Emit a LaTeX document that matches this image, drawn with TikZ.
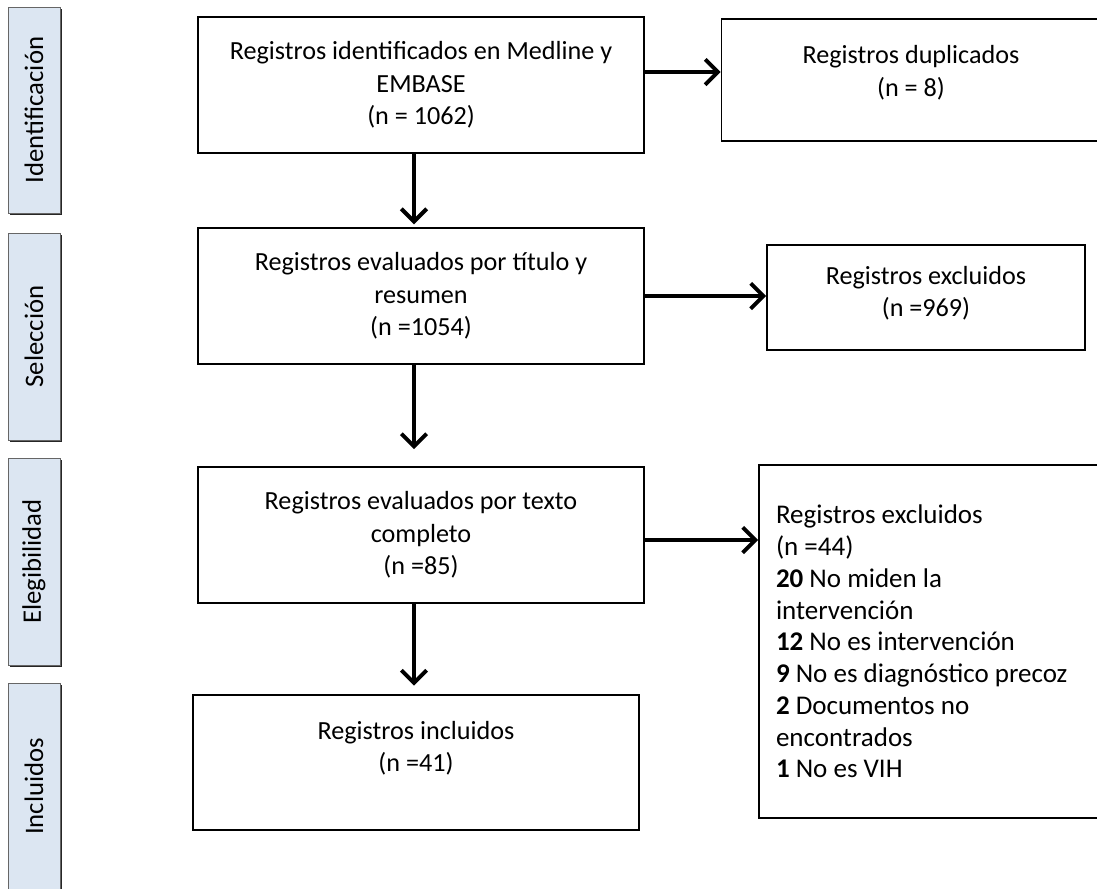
\documentclass[tikz,border=0pt]{standalone}
\usepackage{fontspec}
\setmainfont{Carlito}
\usetikzlibrary{arrows.meta,shadows}

\begin{document}
\begin{tikzpicture}[x=0.025cm, y=-0.025cm,
    caja/.style={draw, line width=1.3pt, align=center, inner sep=0pt,
        font=\fontsize{18.6}{23}\selectfont},
    fase/.style={draw=black!60, line width=0.6pt,
        fill={rgb,255:red,220;green,230;blue,242},
        drop shadow={shadow xshift=1.2pt, shadow yshift=-1.2pt, opacity=1, fill=black!85},
        inner sep=0pt, minimum width=52*\px, font=\fontsize{19}{22}\selectfont},
    flecha/.style={line width=2.8pt, -{Straight Barb[length=9pt, width=18pt]}}]

    % Unidad: un pixel de la figura original
    \def\px{0.025cm}
    \useasboundingbox (0,0) rectangle (1097,888);

    % ==============================================
    % Columna de fases
    % ==============================================
    \node[fase, minimum height=206*\px] (fidentif) at (34,110) {\rotatebox{90}{Identificación}};
    \node[fase, minimum height=207*\px] (fselec) at (34,336.5) {\rotatebox{90}{Selección}};
    \node[fase, minimum height=207*\px] (feleg) at (34,561.5) {\rotatebox{90}{Elegibilidad}};
    \node[fase, minimum height=207*\px] (fincl) at (34,786.5) {\rotatebox{90}{Incluidos}};

    % ==============================================
    % Cajas principales
    % ==============================================
    \node[caja, minimum width=446*\px, minimum height=136*\px] (ident) at (421,85)
        {Registros identificados en Medline y\\EMBASE\\(n = 1062)};
    \node[caja, minimum width=446*\px, minimum height=136*\px] (eval) at (421,296)
        {Registros evaluados por título y\\resumen\\(n =1054)};
    \node[caja, minimum width=446*\px, minimum height=136*\px] (texto) at (421,535)
        {Registros evaluados por texto\\completo\\(n =85)};
    \node[caja, minimum width=446*\px, minimum height=135*\px] (incl) at (416,762.5)
        {Registros incluidos\\(n =41)\\\mbox{}};

    % Cajas de exclusiones
    \node[caja, minimum width=379*\px, minimum height=122*\px] (dupl) at (911,80)
        {Registros duplicados\\(n = 8)\\[-10pt]\mbox{}};
    \node[caja, minimum width=318*\px, minimum height=105*\px] (excl) at (926,297.5)
        {Registros excluidos\\(n =969)\\[-14pt]\mbox{}};
    \node[caja, align=flush left, inner xsep=17*\px, text width=308*\px,
          minimum height=353*\px, font=\fontsize{19.2}{22.6}\selectfont] (excl2) at (930,641.5)
        {Registros excluidos\\
         (n =44)\\
         \textbf{20} No miden la\\
         intervención\\
         \textbf{12} No es intervención\\
         \textbf{9} No es diagnóstico precoz\\
         \textbf{2} Documentos no\\
         encontrados\\
         \textbf{1} No es VIH};

    % ==============================================
    % Flechas
    % ==============================================
    \draw[flecha] ([yshift=13*\px]ident.east) coordinate (a1) -- (a1 -| dupl.west);
    \draw[flecha] (eval.east) -- (eval.east -| excl.west);
    \draw[flecha] ([yshift=-5*\px]texto.east) coordinate (a3) -- (a3 -| excl2.west);

    \draw[flecha, shorten >=2pt] ([xshift=-7*\px]ident.south) coordinate (b1) -- (b1 |- eval.north);
    \draw[flecha, shorten >=12pt] ([xshift=-7*\px]eval.south) coordinate (b2) -- (b2 |- texto.north);
    \draw[flecha, shorten >=6pt] ([xshift=-7*\px]texto.south) coordinate (b3) -- (b3 |- incl.north);

\end{tikzpicture}
\end{document}
